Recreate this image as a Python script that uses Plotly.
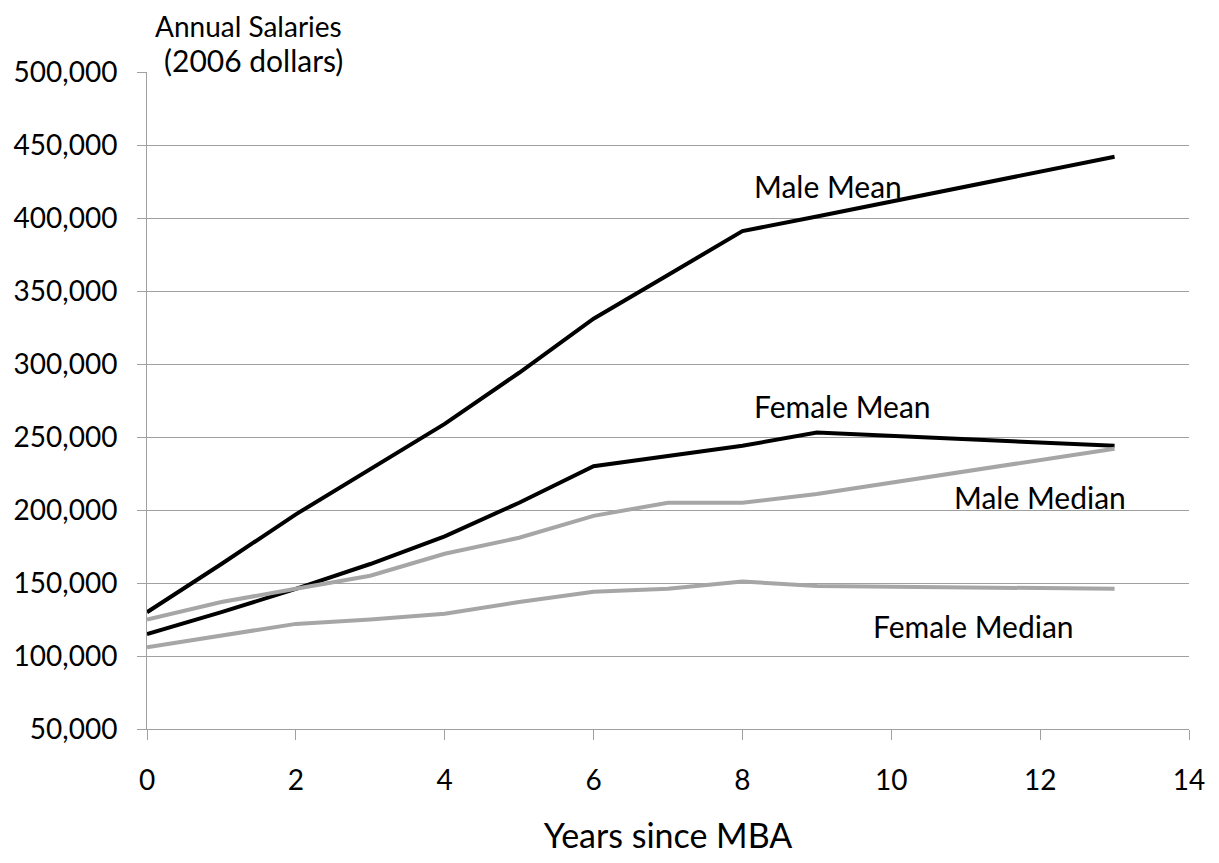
import plotly.graph_objects as go

years = [0, 1, 2, 3, 4, 5, 6, 7, 8, 9, 13]
male_mean = [130000, 163000, 197000, 228000, 259000, 294000, 331000, 361000, 391000, 401000, 442000]
female_mean = [115000, 130000, 146000, 163000, 182000, 205000, 230000, 237000, 244000, 253000, 244000]
male_median = [125000, 137000, 146000, 155000, 170000, 181000, 196000, 205000, 205000, 211000, 242000]
female_median = [106000, 114000, 122000, 125000, 129000, 137000, 144000, 146000, 151000, 148000, 146000]

series_names = ["Male Mean", "Female Mean", "Male Median", "Female Median"]
series_vals = [male_mean, female_mean, male_median, female_median]
series_colors = ["#000000", "#000000", "#A6A6A6", "#A6A6A6"]
# label anchor positions (data coordinates)
label_x = [9.15, 9.35, 12.0, 11.1]
label_y = [422000, 271500, 209000, 120500]

x_ticks = [0, 2, 4, 6, 8, 10, 12, 14]
y_ticks = [50000, 100000, 150000, 200000, 250000, 300000, 350000, 400000, 450000, 500000]

FONT = "Lato, Open Sans, sans-serif"

fig = go.Figure()
for name, vals, col in zip(series_names, series_vals, series_colors):
    fig.add_trace(go.Scatter(x=years, y=vals, mode="lines", name=name,
                             line=dict(color=col, width=4), showlegend=False))

for name, lx, ly in zip(series_names, label_x, label_y):
    fig.add_annotation(x=lx, y=ly, text=name, showarrow=False,
                       font=dict(family=FONT, size=30, color="#000000"))

fig.add_annotation(xref="paper", yref="paper", x=0.0058, y=1.070, xanchor="left", yanchor="middle",
                   text="Annual Salaries", showarrow=False,
                   font=dict(family=FONT, size=28, color="#000000"))
fig.add_annotation(xref="paper", yref="paper", x=0.0144, y=1.018, xanchor="left", yanchor="middle",
                   text="(2006 dollars)", showarrow=False,
                   font=dict(family=FONT, size=30, color="#000000"))

fig.update_layout(
    template="none",
    width=1200, height=847,
    margin=dict(l=139, r=19, t=64, b=126, autoexpand=False),
    paper_bgcolor="white", plot_bgcolor="white",
    xaxis=dict(range=[0, 14], tickvals=x_ticks, showgrid=False, zeroline=False, automargin=False,
               showline=True, linecolor="#A0A0A0", linewidth=1,
               ticks="outside", ticklen=10, tickcolor="#A0A0A0",
               ticklabelstandoff=16,
               tickfont=dict(family=FONT, size=28, color="#000000"),
               title=dict(text="Years since MBA", font=dict(family=FONT, size=34, color="#000000"), standoff=34)),
    yaxis=dict(range=[50000, 500000], tickvals=y_ticks, tickformat=",", automargin=False,
               showgrid=True, gridcolor="#A0A0A0", gridwidth=1, zeroline=False,
               showline=True, linecolor="#A0A0A0", linewidth=1,
               ticks="outside", ticklen=9, tickcolor="#A0A0A0",
               ticklabelstandoff=14,
               tickfont=dict(family=FONT, size=28, color="#000000")),
)

fig.write_html("out.html")
